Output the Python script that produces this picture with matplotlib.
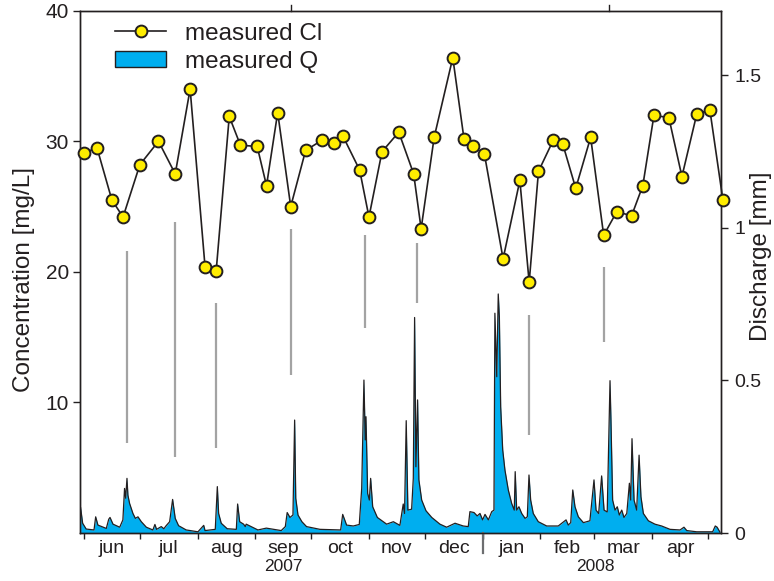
import datetime as dt
import numpy as np
import matplotlib
matplotlib.use("Agg")
import matplotlib.pyplot as plt
import matplotlib.dates as mdates
from matplotlib.lines import Line2D
from matplotlib.patches import Patch
from matplotlib.ticker import FixedLocator, NullFormatter
from matplotlib.transforms import blended_transform_factory

plt.rcParams["font.family"] = ["Liberation Sans", "DejaVu Sans"]

INK = "#231F20"
Q_BLUE = "#00AEEF"
CL_YELLOW = "#FFED00"

# ── chloride grab samples [mg/L] ───────────────────────────────────────────
cl_dates = [
    "2007-06-01", "2007-06-08", "2007-06-16", "2007-06-22", "2007-07-01",
    "2007-07-11", "2007-07-20", "2007-07-28", "2007-08-05", "2007-08-11",
    "2007-08-18", "2007-08-24", "2007-09-02", "2007-09-07", "2007-09-13",
    "2007-09-20", "2007-09-28", "2007-10-07", "2007-10-13", "2007-10-18",
    "2007-10-27", "2007-11-01", "2007-11-08", "2007-11-17", "2007-11-25",
    "2007-11-29", "2007-12-06", "2007-12-16", "2007-12-22", "2007-12-27",
    "2008-01-02", "2008-01-12", "2008-01-21", "2008-01-26", "2008-01-31",
    "2008-02-08", "2008-02-13", "2008-02-20", "2008-02-28", "2008-03-06",
    "2008-03-13", "2008-03-21", "2008-03-27", "2008-04-02", "2008-04-10",
    "2008-04-17", "2008-04-25", "2008-05-02", "2008-05-09",
]
cl_conc = [
    29.1, 29.5, 25.5, 24.2, 28.2, 30.0, 27.5, 34.0, 20.4, 20.1,
    31.9, 29.7, 29.6, 26.6, 32.2, 25.0, 29.3, 30.1, 29.9, 30.4,
    27.8, 24.2, 29.2, 30.7, 27.5, 23.3, 30.3, 36.4, 30.2, 29.6,
    29.0, 21.0, 27.0, 19.2, 27.7, 30.1, 29.8, 26.4, 30.3, 22.8,
    24.6, 24.3, 26.6, 32.0, 31.8, 27.3, 32.1, 32.4, 25.5,
]

# ── discharge record [mm], time in days after 2007-06-01 ─────────────────
q_day = [
    -1.8, -0.7, 1.2, 5.4, 6.3, 7.5, 12.0, 13.3, 14.0, 15.6,
    19.2, 20.9, 21.8, 22.4, 23.1, 23.6, 24.5, 26.3, 27.6, 29.0,
    30.8, 33.5, 37.0, 38.1, 39.0, 41.5, 42.9, 44.0, 46.0, 47.6,
    49.0, 50.8, 54.9, 61.2, 64.3, 65.0, 70.5, 71.6, 72.3, 73.7,
    76.9, 81.8, 82.5, 83.6, 85.7, 86.6, 87.1, 89.8, 93.4, 97.9,
    105.9, 108.1, 109.1, 110.6, 112.2, 113.1, 113.7, 114.9, 117.0, 119.5,
    126.7, 137.8, 138.9, 141.0, 144.6, 147.8, 149.1, 150.3, 151.0, 151.4,
    152.3, 153.2, 153.9, 155.0, 157.5, 162.5, 166.1, 169.6, 171.4, 172.1,
    173.0, 173.9, 175.9, 176.8, 177.5, 178.2, 179.1, 179.8, 181.3, 183.6,
    186.7, 191.1, 194.7, 199.2, 203.6, 206.3, 207.2, 209.4, 211.1, 212.6,
    214.0, 215.3, 217.1, 218.9, 220.1, 220.6, 221.6, 222.4, 223.0, 223.7,
    224.8, 226.0, 227.8, 229.6, 231.0, 231.5, 232.3, 233.5, 235.0, 236.8,
    238.0, 238.9, 239.8, 241.2, 243.9, 248.4, 254.6, 258.8, 260.0, 261.3,
    262.4, 263.6, 265.4, 268.1, 271.6, 273.8, 274.9, 276.3, 277.9, 279.2,
    280.9, 282.4, 282.9, 283.8, 285.1, 286.3, 287.4, 288.7, 289.9, 291.4,
    292.8, 293.5, 294.2, 295.3, 296.7, 298.0, 299.0, 300.3, 303.0, 306.5,
    310.1, 314.6, 320.0, 322.1, 323.6, 328.9, 337.5, 338.9, 339.9, 341.4,
]
q_mm = [
    0.083, 0.032, 0.013, 0.010, 0.053, 0.026, 0.015, 0.045, 0.051, 0.029,
    0.019, 0.043, 0.146, 0.114, 0.179, 0.124, 0.097, 0.064, 0.048, 0.053,
    0.037, 0.019, 0.010, 0.028, 0.012, 0.021, 0.014, 0.023, 0.037, 0.110,
    0.048, 0.024, 0.010, 0.004, 0.025, 0.008, 0.012, 0.152, 0.064, 0.032,
    0.014, 0.012, 0.095, 0.037, 0.029, 0.021, 0.029, 0.021, 0.010, 0.016,
    0.008, 0.021, 0.067, 0.051, 0.059, 0.370, 0.114, 0.059, 0.037, 0.021,
    0.012, 0.010, 0.061, 0.026, 0.023, 0.028, 0.146, 0.501, 0.305, 0.381,
    0.130, 0.108, 0.179, 0.086, 0.051, 0.029, 0.037, 0.025, 0.095, 0.064,
    0.368, 0.075, 0.078, 0.179, 0.706, 0.217, 0.436, 0.174, 0.108, 0.073,
    0.051, 0.029, 0.019, 0.032, 0.023, 0.021, 0.070, 0.067, 0.056, 0.064,
    0.043, 0.061, 0.043, 0.070, 0.075, 0.720, 0.512, 0.783, 0.708, 0.414,
    0.272, 0.206, 0.141, 0.097, 0.075, 0.201, 0.075, 0.086, 0.064, 0.048,
    0.053, 0.190, 0.108, 0.064, 0.037, 0.023, 0.023, 0.043, 0.026, 0.034,
    0.141, 0.086, 0.053, 0.034, 0.040, 0.174, 0.075, 0.064, 0.187, 0.075,
    0.069, 0.499, 0.370, 0.108, 0.075, 0.086, 0.059, 0.075, 0.051, 0.064,
    0.163, 0.108, 0.309, 0.108, 0.075, 0.255, 0.119, 0.064, 0.040, 0.029,
    0.023, 0.012, 0.010, 0.019, 0.008, 0.004, 0.004, 0.023, 0.019, 0.003,
]

# ── event bars (concentration range) ───────────────────────────────────────
event_dates = ["2007-06-24", "2007-07-20", "2007-08-11", "2007-09-20",
               "2007-10-30", "2007-11-27", "2008-01-26", "2008-03-06"]
event_top = [21.6, 23.8, 17.6, 23.3, 22.8, 22.2, 16.7, 20.4]
event_bottom = [6.9, 5.8, 6.5, 12.1, 15.7, 17.6, 7.5, 14.6]

month_labels = ["jun", "jul", "aug", "sep", "oct", "nov",
                "dec", "jan", "feb", "mar", "apr"]
year_labels = ["2007", "2008"]
conc_ticks = [10, 20, 30, 40]
q_ticks = [0, 0.5, 1, 1.5]
q_tick_labels = ["0", "0.5", "1", "1.5"]

# ── figure ─────────────────────────────────────────────────────────────────
fig = plt.figure(figsize=(7.74, 5.81), dpi=100)
ax = fig.add_axes([0.1034, 0.0826, 0.8277, 0.899])
ax2 = ax.twinx()
ax.set_zorder(ax2.get_zorder() + 1)
ax.patch.set_visible(False)

t0 = mdates.date2num(dt.datetime(2007, 6, 1))
qx = t0 + np.array(q_day)
ax2.fill_between(qx, 0, q_mm, color=Q_BLUE, lw=0)
ax2.plot(qx, q_mm, color=INK, lw=0.9)

ev_x = mdates.datestr2num(event_dates)
ax.vlines(ev_x, event_bottom, event_top, color="#A3A3A3", lw=1.6, zorder=2)

cl_x = mdates.datestr2num(cl_dates)
ax.plot(cl_x, cl_conc, "-o", color=INK, lw=1.2, ms=8.5,
        mfc=CL_YELLOW, mec=INK, mew=1.4, clip_on=False, zorder=5)

ax.set_xlim(t0 - 2.1, t0 + 341.8)
ax.set_ylim(0, 40)
ax2.set_ylim(0, 1.711)

# y axes
ax.set_yticks(conc_ticks)
ax.tick_params(axis="y", length=5, width=1, color=INK, labelsize=15,
               labelcolor=INK, pad=3)
ax2.set_yticks(q_ticks)
ax2.set_yticklabels(q_tick_labels)
ax2.tick_params(axis="y", length=5, width=1, color=INK, labelsize=14,
                labelcolor=INK, pad=5)
ax.set_ylabel("Concentration [mg/L]", fontsize=17.5, color=INK)
ax.yaxis.set_label_coords(-0.07, 0.485)
ax2.set_ylabel("Discharge [mm]", fontsize=17.5, color=INK)
ax2.yaxis.set_label_coords(1.046, 0.53)

# month ticks at month starts, names centred in between
month_starts = [mdates.date2num(dt.datetime(2007 + (m > 12), (m - 1) % 12 + 1, 1))
                for m in range(6, 18)]
mids = [(a + b) / 2 for a, b in zip(month_starts[:-1], month_starts[1:])]
ax.xaxis.set_major_locator(FixedLocator(month_starts))
ax.xaxis.set_major_formatter(NullFormatter())
ax.xaxis.set_minor_locator(FixedLocator(mids))
ax.set_xticklabels(month_labels, minor=True)
ax.tick_params(axis="x", which="major", length=4.5, width=1, color=INK)
ax.tick_params(axis="x", which="minor", length=0, labelsize=14,
               labelcolor=INK, pad=5)

trans = blended_transform_factory(ax.transData, ax.transAxes)
jan1 = mdates.date2num(dt.datetime(2008, 1, 1))
ax.plot([jan1, jan1], [0, -0.039], transform=trans, color="#6D6E70",
        lw=1.6, clip_on=False)
year_mid = [(month_starts[0] + jan1) / 2, (jan1 + month_starts[-1]) / 2]
for xm, lbl in zip(year_mid, year_labels):
    ax.text(xm, -0.065, lbl, transform=trans, ha="center", va="center",
            fontsize=12.5, color=INK)

# short marks on the top frame
for d in ["2007-09-20", "2008-03-09"]:
    xd = mdates.datestr2num(d)
    ax.plot([xd, xd], [1, 1.011], transform=trans, color=INK, lw=1,
            clip_on=False)

for a in (ax, ax2):
    for s in a.spines.values():
        s.set_color(INK)
        s.set_linewidth(1)

handles = [
    Line2D([], [], color=INK, lw=1.2, marker="o", ms=8.5, mfc=CL_YELLOW,
           mec=INK, mew=1.4),
    Patch(facecolor=Q_BLUE, edgecolor=INK, lw=1),
]
ax.legend(handles, ["measured Cl", "measured Q"], loc="upper left",
          bbox_to_anchor=(0.04, 0.996), borderaxespad=0, frameon=False,
          fontsize=17.5, handlelength=2.1, handleheight=0.65,
          handletextpad=0.75, labelspacing=0.25, labelcolor=INK)

fig.savefig("out.png", dpi=100)
